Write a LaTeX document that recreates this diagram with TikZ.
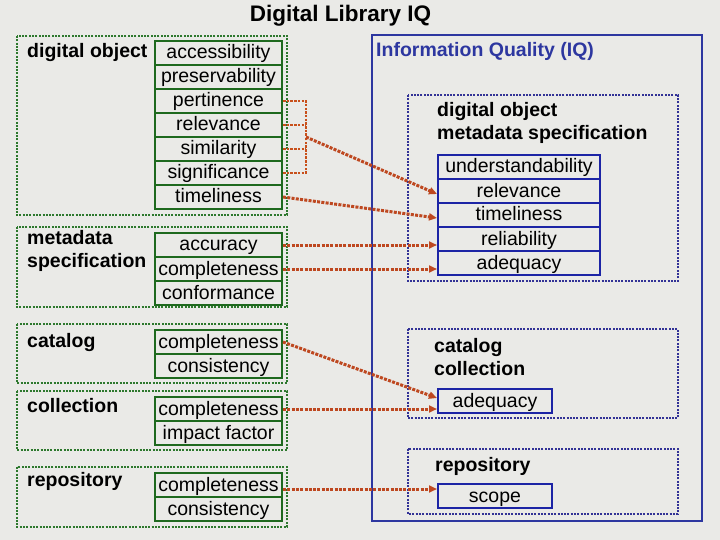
\documentclass[tikz,border=0pt]{standalone}
\usepackage{fontspec}
\setmainfont{Liberation Sans}
\usetikzlibrary{arrows.meta}
\definecolor{bgc}{RGB}{234,234,231}
\definecolor{gdark}{RGB}{30,105,30}
\definecolor{gdot}{RGB}{45,120,45}
\definecolor{bdark}{RGB}{28,36,165}
\definecolor{bdot}{RGB}{50,50,150}
\definecolor{iqblue}{RGB}{45,55,160}
\definecolor{arrc}{RGB}{190,72,32}
\begin{document}
\begin{tikzpicture}[x=1pt,y=-1pt,
  grp/.style={draw=gdot, line width=1.5pt, dash pattern=on 2pt off 1.3pt},
  bgrp/.style={draw=bdot, line width=1.5pt, dash pattern=on 2pt off 1.3pt},
  cellbase/.style={rectangle, line width=2pt, inner sep=0pt, minimum height=24pt,
    text height=15pt, text depth=3pt, font=\fontsize{19.5}{23}\selectfont},
  gcell/.style={cellbase, draw=gdark, minimum width=127pt},
  bcell/.style={cellbase, draw=bdark, minimum width=162pt},
  bcellsm/.style={cellbase, draw=bdark, minimum width=114pt},
  lbl/.style={anchor=base west, inner sep=0pt, font=\fontsize{19.5}{23}\selectfont\bfseries},
  conn/.style={draw=arrc, line width=3pt, dash pattern=on 3pt off 1.3pt},
  brk/.style={draw=arrc!85!orange, line width=2.2pt, dash pattern=on 2.5pt off 1.2pt},
  tip/.style={-{Triangle[length=8pt,width=7pt]}}
]
\fill[bgc] (0,0) rectangle (720,540);
\useasboundingbox (0,0) rectangle (720,540);

% title
\node[anchor=base, inner sep=0pt, font=\fontsize{22.5}{26}\selectfont\bfseries] (title) at (340.5,22) {Digital Library IQ};

% ---------- left side ----------
\draw[grp] (17,36) rectangle (287,215);
\draw[grp] (17,227) rectangle (287,307);
\draw[grp] (17,324) rectangle (287,383);
\draw[grp] (17,391) rectangle (287,450);
\draw[grp] (17,467) rectangle (287,527);

\node[lbl] (ldo) at (27,58) {digital object};
\node[lbl] (lmd) at (27,244) {metadata};
\node[lbl] (lms) at (27,267) {specification};
\node[lbl] (lcat) at (27,347) {catalog};
\node[lbl] (lcol) at (27,412) {collection};
\node[lbl] (lrep) at (27,486) {repository};

\node[gcell] (acc) at (218.5,53) {accessibility};
\node[gcell] (pres) at (218.5,77) {preservability};
\node[gcell] (pert) at (218.5,101) {pertinence};
\node[gcell] (rel) at (218.5,125) {relevance};
\node[gcell] (sim) at (218.5,149) {similarity};
\node[gcell] (sig) at (218.5,173) {significance};
\node[gcell] (tim) at (218.5,197) {timeliness};

\node[gcell] (accu) at (218.5,245) {accuracy};
\node[gcell] (mcomp) at (218.5,269) {completeness};
\node[gcell] (conf) at (218.5,293) {conformance};

\node[gcell] (ccomp) at (218.5,342) {completeness};
\node[gcell] (ccons) at (218.5,366) {consistency};

\node[gcell] (kcomp) at (218.5,409) {completeness};
\node[gcell] (kimp) at (218.5,433) {impact factor};

\node[gcell] (rcomp) at (218.5,485) {completeness};
\node[gcell] (rcons) at (218.5,509) {consistency};

% ---------- right side ----------
\draw[draw=iqblue, line width=1.6pt] (372,35) rectangle (702,521);
\node[lbl, text=iqblue] (liq) at (376,57) {Information Quality (IQ)};

\draw[bgrp] (408,95) rectangle (678,281);
\draw[bgrp] (408,329) rectangle (678,418);
\draw[bgrp] (408,449) rectangle (678,514);

\node[lbl] (rdo) at (437,117) {digital object};
\node[lbl] (rms) at (437,140) {metadata specification};
\node[lbl] (rcat) at (434,352) {catalog};
\node[lbl] (rcol) at (434,375) {collection};
\node[lbl] (rrep) at (435,471) {repository};

\node[bcell] (und) at (519,167) {understandability};
\node[bcell] (irel) at (519,191) {relevance};
\node[bcell] (itim) at (519,215) {timeliness};
\node[bcell] (irelia) at (519,239) {reliability};
\node[bcell] (iadq) at (519,263) {adequacy};

\node[bcellsm] (cadq) at (495,401) {adequacy};
\node[bcellsm] (scope) at (495,496) {scope};

% ---------- connectors ----------
\coordinate (br) at (306,137);
\coordinate (rs) at ([yshift=-4pt]rcomp.east);
\draw[brk] (pert.east) -| (br);
\draw[brk] (sig.east) -| (br);
\draw[brk] (rel.east) -- (rel.east -| br);
\draw[brk] (sim.east) -- (sim.east -| br);
\draw[conn, tip] (br) -- ([yshift=-3pt]irel.west);
\draw[conn, tip] (tim.east) -- ([yshift=-3pt]itim.west);
\draw[conn, tip] (accu.east) -- (accu.east -| irelia.west);
\draw[conn, tip] (mcomp.east) -- (mcomp.east -| iadq.west);
\draw[conn, tip] (ccomp.east) -- ([yshift=3pt]cadq.west);
\draw[conn, tip] (kcomp.east) -- (kcomp.east -| cadq.west);
\draw[conn, tip] (rs) -- (rs -| scope.west);
\end{tikzpicture}
\end{document}
